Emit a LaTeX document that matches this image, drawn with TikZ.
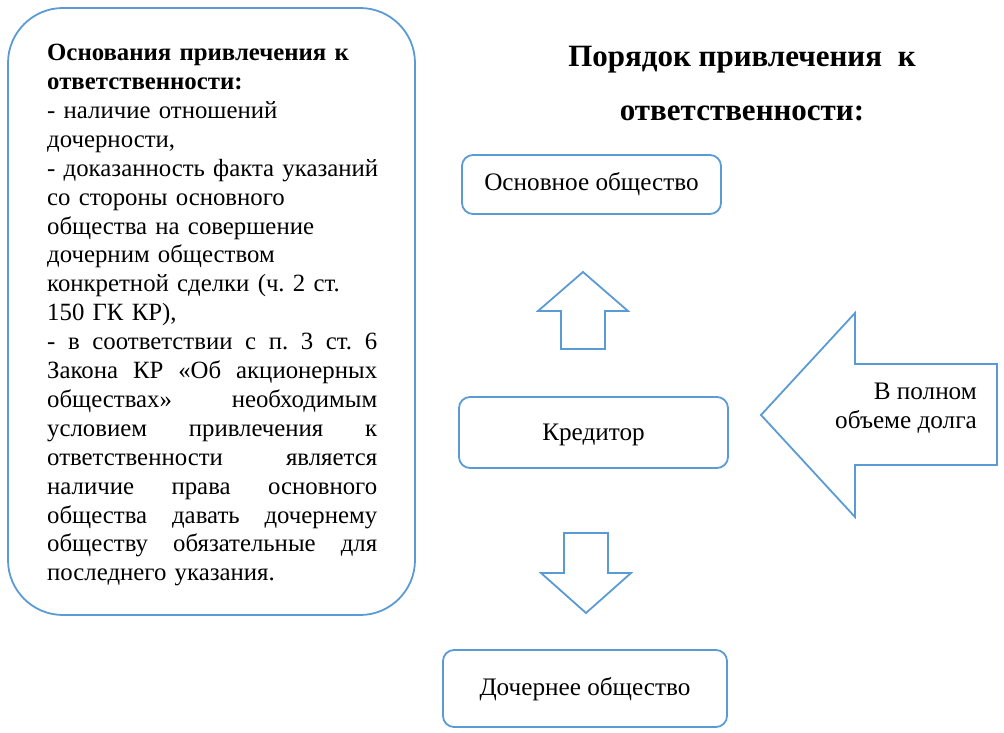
\documentclass[tikz,border=0pt]{standalone}
\usepackage{fontspec}
\setmainfont{Liberation Serif}
\definecolor{lblue}{HTML}{5B9BD5}
\newcommand{\jline}[1]{\leavevmode\hbox to 330pt{#1}}
\begin{document}
\frenchspacing
\begin{tikzpicture}[x=1pt,y=-1pt,
  outline/.style={draw=lblue,line width=1.8pt,line join=miter},
  box/.style={outline,rounded corners=11pt},
  txt/.style={font=\fontsize{25.2}{29}\selectfont},
  ltxt/.style={font=\fontsize{24.8}{28.9}\selectfont\frenchspacing},
  ]
\useasboundingbox (0,0) rectangle (1004,733);
% left big box
\draw[outline,rounded corners=55pt] (8,8) rectangle (415,615);
\node[ltxt,anchor=north west,inner sep=0pt,text width=355pt,align=left] (basis) at (47,44) {%
\textbf{Основания привлечения к}\\
\textbf{ответственности:}\\
- наличие отношений\\
дочерности,\\
- доказанность факта указаний\\
со стороны основного\\
общества на совершение\\
дочерним обществом\\
конкретной сделки (ч. 2 ст.\\
150 ГК КР),\\
\jline{-\hfill в\hfill соответствии\hfill с\hfill п.\hfill 3\hfill ст.\hfill 6}\\
\jline{Закона\hfill КР\hfill «Об\hfill акционерных}\\
\jline{обществах»\hfill необходимым}\\
\jline{условием\hfill привлечения\hfill к}\\
\jline{ответственности\hfill является}\\
\jline{наличие\hfill права\hfill основного}\\
\jline{общества\hfill давать\hfill дочернему}\\
\jline{обществу\hfill обязательные\hfill для}\\
последнего указания.};
% title
\node[font=\fontsize{31}{54}\selectfont\bfseries,align=center,inner sep=0pt] (title) at (742,84) {Порядок привлечения\hspace{8pt} к\\ответственности:};
% boxes
\draw[box] (462,155) rectangle (721,214);
\node[txt] (main) at (591.5,184.5) {Основное общество};
\draw[box] (459,397) rectangle (728,468);
\node[txt] (cred) at (593.5,435) {Кредитор};
\draw[box] (443,650) rectangle (727,727);
\node[txt] (sub) at (585,689) {Дочернее общество};
% up arrow
\draw[outline] (583,272) -- (628,311) -- (605,311) -- (605,349) -- (561,349) -- (561,311) -- (538,311) -- cycle;
% down arrow
\draw[outline] (564,533) -- (608,533) -- (608,573) -- (631,573) -- (586,613) -- (541,573) -- (564,573) -- cycle;
% left arrow
\draw[outline] (761,415) -- (855,313) -- (855,364) -- (997,364) -- (997,465) -- (855,465) -- (855,517) -- cycle;
\node[txt,anchor=east,align=right,inner sep=0pt] (full) at (977,408) {В полном\\объеме долга};
\end{tikzpicture}
\end{document}
